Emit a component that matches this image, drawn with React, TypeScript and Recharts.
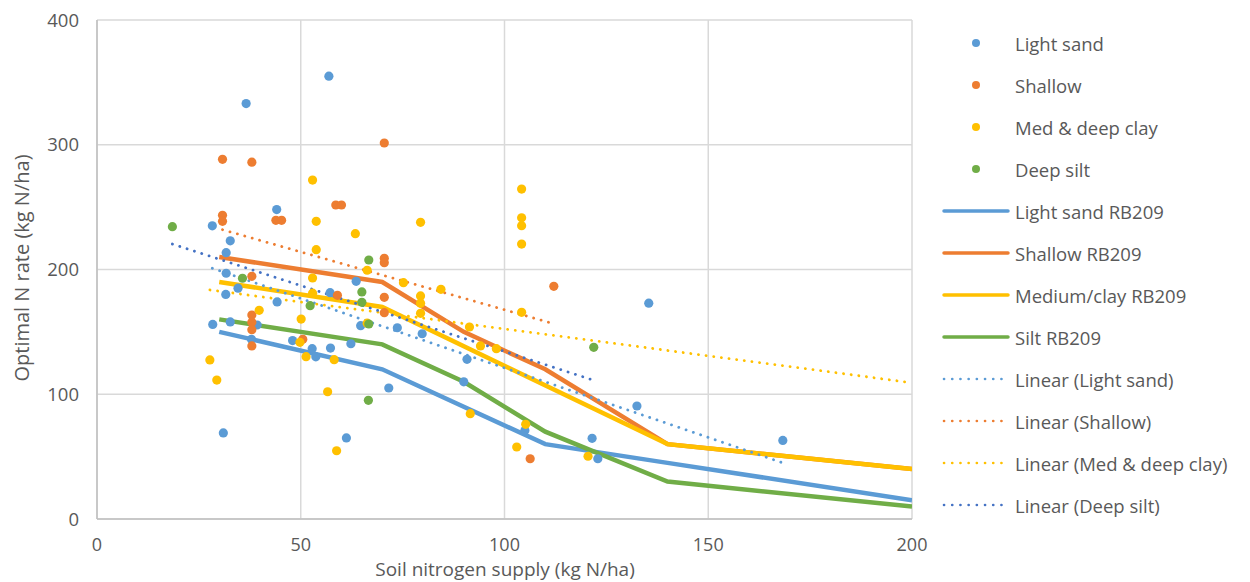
import React from "react";
import { ComposedChart, Scatter, Line, XAxis, YAxis, CartesianGrid, Label } from "recharts";

// Scatter observations [soil N supply, optimal N rate]
const lightSand: [number, number][] = [
  [36.6, 333], [56.9, 355], [44.1, 248], [28.3, 235], [32.7, 223], [31.7, 213.5], [31.7, 197],
  [34.6, 185], [31.6, 180], [44.2, 174], [39.3, 155.5], [28.4, 156], [32.7, 158], [37.9, 144],
  [48.0, 143], [52.8, 136.5], [53.7, 130], [57.3, 137], [62.3, 140.5], [63.6, 190.5], [57.2, 181.4],
  [64.7, 155], [73.7, 153.3], [31.0, 69], [61.2, 65], [79.8, 148.5], [71.6, 105], [90.8, 128],
  [90.0, 110], [105.0, 71], [121.5, 64.7], [122.9, 48.3], [135.4, 173], [132.5, 90.6], [168.3, 63],
];
const shallow: [number, number][] = [
  [30.8, 288.3], [38.0, 286], [30.8, 243.4], [30.8, 238.6], [43.9, 239.4], [45.3, 239.4],
  [58.6, 251.7], [60.0, 251.7], [70.5, 301.4], [70.5, 209], [70.5, 205.5], [38.0, 194.5],
  [70.5, 177.7], [70.5, 165.4], [38.0, 163.5], [38.0, 157.7], [38.0, 151.7], [38.0, 138.7],
  [50.5, 144], [59.0, 179.3], [112.1, 186.5], [106.3, 48.3],
];
const medDeepClay: [number, number][] = [
  [52.9, 271.7], [53.8, 238.6], [63.4, 228.7], [53.8, 215.9], [79.4, 237.8], [104.2, 264.5],
  [104.2, 241.5], [104.2, 235.1], [104.2, 220.4], [66.3, 199.4], [52.9, 193.2], [52.9, 181],
  [39.8, 167.3], [50.1, 160.3], [49.8, 141.6], [51.3, 130.1], [58.2, 127.7], [27.7, 127.5],
  [29.4, 111.4], [56.6, 102], [58.8, 54.7], [66.3, 157], [75.2, 189.4], [84.4, 184.1],
  [79.4, 178.8], [79.4, 172.9], [79.4, 164.9], [104.2, 165.7], [91.4, 153.9], [94.1, 138.7],
  [98.0, 136.5], [91.6, 84.4], [105.2, 75.9], [103.0, 57.7], [120.5, 50.3],
];
const deepSilt: [number, number][] = [
  [18.5, 234.3], [35.7, 193], [66.7, 207.6], [65.0, 182], [65.0, 173.7], [52.3, 171],
  [66.7, 156.3], [66.6, 95.1], [121.9, 137.6],
];

// RB209 recommendation lines
const lightSandRB209: [number, number][] = [[30, 150], [70, 120], [110, 60], [140, 45], [200, 15]];
const shallowRB209: [number, number][] = [[30, 210], [70, 190], [90, 150], [110, 120], [140, 60], [200, 40]];
const mediumClayRB209: [number, number][] = [[30, 190], [70, 170], [140, 60], [200, 40]];
const siltRB209: [number, number][] = [[30, 160], [70, 140], [90, 110], [110, 70], [140, 30], [200, 10]];

// Linear trendlines (end points)
const trendLightSand: [number, number][] = [[28.3, 201], [168.3, 45]];
const trendShallow: [number, number][] = [[30.8, 231.9], [112.1, 156.5]];
const trendMedDeepClay: [number, number][] = [[27.7, 183.6], [200, 109.2]];
const trendDeepSilt: [number, number][] = [[18.5, 220.4], [121.9, 111.2]];

const xTicks = [0, 50, 100, 150, 200];
const yTicks = [0, 100, 200, 300, 400];

const BLUE = "#5b9bd5";
const ORANGE = "#ed7d31";
const YELLOW = "#ffc000";
const GREEN = "#70ad47";
const DARKBLUE = "#4472c4";
const TEXT = "#595959";
const FONT = "'Open Sans', sans-serif";

const toPts = (a: [number, number][]) => a.map(([x, y]) => ({ x, y }));

const dot = (color: string) => (props: any) => (
  <circle cx={props.cx} cy={props.cy} r={4.6} fill={color} />
);

const legendItems: { label: string; color: string; kind: "dot" | "line" | "dotted" }[] = [
  { label: "Light sand", color: BLUE, kind: "dot" },
  { label: "Shallow", color: ORANGE, kind: "dot" },
  { label: "Med & deep clay", color: YELLOW, kind: "dot" },
  { label: "Deep silt", color: GREEN, kind: "dot" },
  { label: "Light sand RB209", color: BLUE, kind: "line" },
  { label: "Shallow RB209", color: ORANGE, kind: "line" },
  { label: "Medium/clay RB209", color: YELLOW, kind: "line" },
  { label: "Silt RB209", color: GREEN, kind: "line" },
  { label: "Linear (Light sand)", color: BLUE, kind: "dotted" },
  { label: "Linear (Shallow)", color: ORANGE, kind: "dotted" },
  { label: "Linear (Med & deep clay)", color: YELLOW, kind: "dotted" },
  { label: "Linear (Deep silt)", color: DARKBLUE, kind: "dotted" },
];

function LegendBox() {
  return (
    <div style={{ position: "absolute", left: 940, top: 22, width: 310 }}>
      {legendItems.map((it) => (
        <div key={it.label} style={{ height: 42, display: "flex", alignItems: "center" }}>
          <svg width={75} height={20} style={{ flex: "none" }}>
            {it.kind === "dot" && <circle cx={36} cy={10} r={4} fill={it.color} />}
            {it.kind === "line" && (
              <line x1={4} y1={10} x2={68} y2={10} stroke={it.color} strokeWidth={3.5} strokeLinecap="round" />
            )}
            {it.kind === "dotted" && (
              <line x1={4} y1={10} x2={69} y2={10} stroke={it.color} strokeWidth={2.6} strokeLinecap="round" strokeDasharray="0.1 8.1" />
            )}
          </svg>
          <span style={{ fontFamily: FONT, fontSize: 18.5, color: TEXT, whiteSpace: "nowrap" }}>{it.label}</span>
        </div>
      ))}
    </div>
  );
}

export default function App() {
  const dotted = { strokeWidth: 2.8, strokeLinecap: "round" as const, strokeDasharray: "0.1 7.6" };
  return (
    <div style={{ position: "absolute", left: 0, top: 0, width: 1250, height: 582, background: "#fff" }}>
      <ComposedChart width={1250} height={582} margin={{ top: 20, right: 338, bottom: 0, left: 0 }}>
        <CartesianGrid stroke="#d9d9d9" strokeWidth={1.5} horizontalValues={yTicks} verticalValues={xTicks} />
        <XAxis
          type="number"
          dataKey="x"
          domain={[0, 200]}
          ticks={xTicks}
          height={63}
          stroke="#bfbfbf"
          strokeWidth={1.5}
          tickLine={false}
          tickSize={6}
          tickMargin={13}
          tick={{ fill: TEXT, fontSize: 18, fontFamily: FONT }}
          allowDataOverflow
        >
          <Label
            content={() => (
              <text x={505} y={576} textAnchor="middle" fill={TEXT} fontSize={19} fontFamily={FONT}>
                Soil nitrogen supply (kg N/ha)
              </text>
            )}
          />
        </XAxis>
        <YAxis
          type="number"
          domain={[0, 400]}
          ticks={yTicks}
          width={97}
          stroke="#bfbfbf"
          strokeWidth={1.5}
          tickLine={false}
          tickSize={6}
          tickMargin={12}
          tick={{ fill: TEXT, fontSize: 18.5, fontFamily: FONT }}
          allowDataOverflow
        >
          <Label
            content={() => (
              <text x={21} y={268} transform="rotate(-90 21 268)" textAnchor="middle" dominantBaseline="central" fill={TEXT} fontSize={20} fontFamily={FONT}>
                Optimal N rate (kg N/ha)
              </text>
            )}
          />
        </YAxis>

        <Line data={toPts(lightSandRB209)} dataKey="y" stroke={BLUE} strokeWidth={4.5} dot={false} activeDot={false} isAnimationActive={false} />
        <Line data={toPts(shallowRB209)} dataKey="y" stroke={ORANGE} strokeWidth={4.5} dot={false} activeDot={false} isAnimationActive={false} />
        <Line data={toPts(mediumClayRB209)} dataKey="y" stroke={YELLOW} strokeWidth={4.5} dot={false} activeDot={false} isAnimationActive={false} />
        <Line data={toPts(siltRB209)} dataKey="y" stroke={GREEN} strokeWidth={4.5} dot={false} activeDot={false} isAnimationActive={false} />

        <Line data={toPts(trendLightSand)} dataKey="y" stroke={BLUE} {...dotted} dot={false} activeDot={false} isAnimationActive={false} />
        <Line data={toPts(trendShallow)} dataKey="y" stroke={ORANGE} {...dotted} dot={false} activeDot={false} isAnimationActive={false} />
        <Line data={toPts(trendMedDeepClay)} dataKey="y" stroke={YELLOW} {...dotted} dot={false} activeDot={false} isAnimationActive={false} />
        <Line data={toPts(trendDeepSilt)} dataKey="y" stroke={DARKBLUE} {...dotted} dot={false} activeDot={false} isAnimationActive={false} />

        <Scatter data={toPts(lightSand)} dataKey="y" fill={BLUE} shape={dot(BLUE)} isAnimationActive={false} />
        <Scatter data={toPts(shallow)} dataKey="y" fill={ORANGE} shape={dot(ORANGE)} isAnimationActive={false} />
        <Scatter data={toPts(medDeepClay)} dataKey="y" fill={YELLOW} shape={dot(YELLOW)} isAnimationActive={false} />
        <Scatter data={toPts(deepSilt)} dataKey="y" fill={GREEN} shape={dot(GREEN)} isAnimationActive={false} />
      </ComposedChart>
      <LegendBox />
    </div>
  );
}
